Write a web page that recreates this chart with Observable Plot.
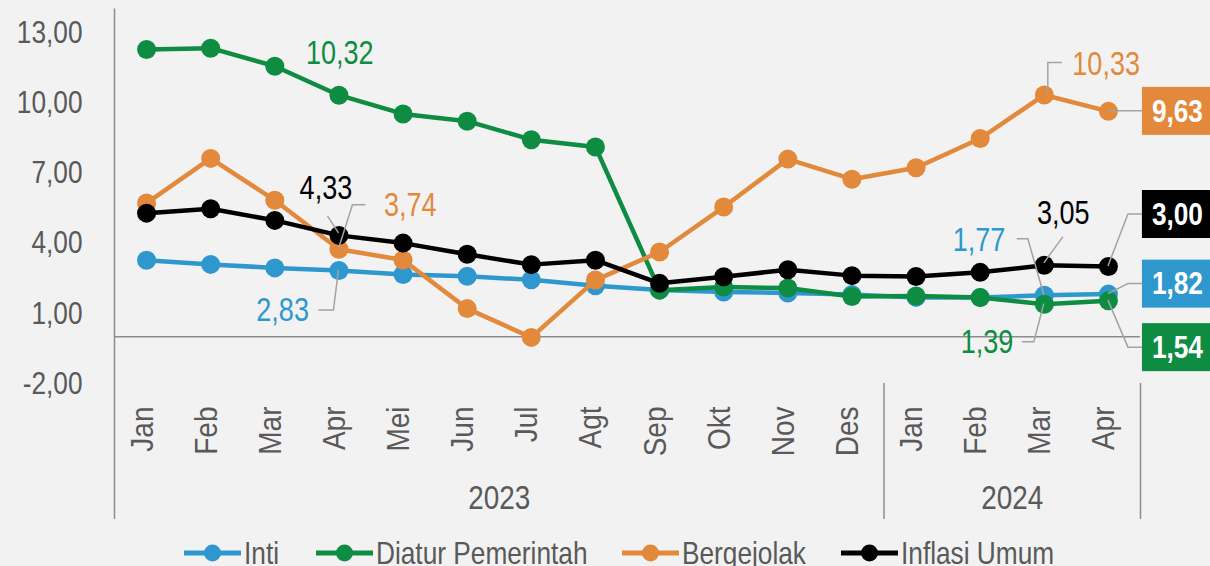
<!DOCTYPE html>
<html><head><meta charset="utf-8">
<script src="https://cdn.jsdelivr.net/npm/d3@7"></script>
<script src="https://cdn.jsdelivr.net/npm/@observablehq/plot@0.6"></script>
<style>
body{margin:0;background:#F2F2F2;}
#chart{position:relative;width:1210px;height:566px;overflow:hidden;background:#F2F2F2;}
#legend{position:relative;height:36px;font-family:"Liberation Sans",Arial,sans-serif;font-size:32px;color:#595959;}
.item{position:absolute;top:0;height:46px;display:flex;align-items:center;white-space:nowrap;}
.item svg{margin-right:3px;flex:none;}
.item span{display:inline-block;transform:scaleX(0.82);transform-origin:left center;}
</style></head><body><div id="chart"></div><script>
// ---- data ----
const months = ["Jan","Feb","Mar","Apr","Mei","Jun","Jul","Agt","Sep","Okt","Nov","Des","Jan","Feb","Mar","Apr"];
const monthYear = ["2023","2023","2023","2023","2023","2023","2023","2023","2023","2023","2023","2023","2024","2024","2024","2024"];
const seriesNames = ["Inti","Diatur Pemerintah","Bergejolak","Inflasi Umum"];
const inti       = [3.27,3.09,2.94,2.83,2.66,2.58,2.43,2.18,2.00,1.91,1.87,1.80,1.68,1.68,1.77,1.82];
const diatur     = [12.27,12.33,11.56,10.32,9.52,9.21,8.42,8.11,1.99,2.12,2.08,1.72,1.74,1.67,1.39,1.54];
const bergejolak = [5.71,7.62,5.83,3.74,3.28,1.20,-0.03,2.42,3.62,5.54,7.59,6.73,7.22,8.47,10.33,9.63];
const umum       = [5.28,5.47,4.97,4.33,4.00,3.52,3.08,3.27,2.28,2.56,2.86,2.61,2.57,2.75,3.05,3.00];
const yTicks = [-2,1,4,7,10,13];

// ---- styles ----
const colors = ["#2E98CE","#0E8C42","#E2893B","#000000"];
const narrow = '"Liberation Sans","Arial Narrow",sans-serif';   // compressed horizontally below
const regular = '"Liberation Sans",Arial,sans-serif';
const fmt = v => v.toFixed(2).replace(".", ",");
const values = [inti, diatur, bergejolak, umum];

const rows = values.map((arr, s) => arr.map((v, i) => ({s, i, v})));
const last = months.length - 1;

// callouts: series index, month index, label placement (pixel offsets from point)
const callouts = [
  {s:1, i:3,  anchor:"start",  dx:-33, dy:-42, path:null},
  {s:3, i:3,  anchor:"middle", dx:-13, dy:-47, path:[[-11,-19],[0,-2]]},
  {s:2, i:3,  anchor:"start",  dx:45,  dy:-44, path:[[0,0],[14,-44],[27,-44]]},
  {s:0, i:3,  anchor:"end",    dx:-30, dy:40,  path:[[0,0],[-5,40],[-20,40]]},
  {s:2, i:14, anchor:"start",  dx:28,  dy:-31, path:[[4,-2],[4,-32],[18,-32]]},
  {s:3, i:14, anchor:"middle", dx:19,  dy:-52, path:[[19,-28],[0,-2]]},
  {s:0, i:14, anchor:"end",    dx:-39, dy:-55, path:[[-27,-56],[-16,-56],[0,0]]},
  {s:1, i:14, anchor:"end",    dx:-31, dy:38,  path:[[-22,38],[-10,38],[0,0]]}
].map(d => ({...d, v: values[d.s][d.i]}));

const boxes = [
  {s:2, dy:0,   path:[[0,0],[34,0]]},
  {s:3, dy:-52, path:[[0,0],[20,-52],[34,-52]]},
  {s:0, dy:-10, path:[[0,0],[20,-10],[34,-10]]},
  {s:1, dy:47,  path:[[0,0],[20,47],[34,47]]}
].map(d => ({...d, i:last, v: values[d.s][last]}));

// year groups
const yearGroups = d3.groups(d3.range(months.length), i => monthYear[i])
  .map(([y, idx]) => ({year: y, mid: (d3.min(idx) + d3.max(idx)) / 2, end: d3.max(idx) + 0.5}));

function leaderMark(data) {
  return Plot.dot(data, {x: "i", y: "v", render(index, scales) {
    const g = d3.create("svg:g").attr("fill","none").attr("stroke","#A3A3A3").attr("stroke-width",1.5);
    for (const k of index) {
      const d = data[k]; if (!d.path) continue;
      const x0 = scales.x(d.i), y0 = scales.y(d.v);
      g.append("path").attr("d", d3.line()(d.path.map(([dx,dy]) => [x0+dx, y0+dy])));
    }
    return g.node();
  }});
}
function boxMark(data) {
  return Plot.dot(data, {x: "i", y: "v", render(index, scales) {
    const g = d3.create("svg:g");
    for (const k of index) {
      const d = data[k];
      const x0 = scales.x(d.i), y0 = scales.y(d.v);
      g.append("rect").attr("x", x0+34).attr("y", y0+d.dy-24).attr("width", 70).attr("height", 48).attr("fill", colors[d.s]);
    }
    return g.node();
  }});
}

const marks = [
  Plot.axisY(yTicks, {tickSize:0, tickPadding:32, tickFormat: fmt, label:null, fontSize:32, fontFamily: narrow, fill:"#595959"}),
  Plot.ruleX([-0.5], {stroke:"#8C8C8C", strokeWidth:1.5, insetBottom:-136}),
  Plot.ruleX(yearGroups, {x:"end", y1: () => -2, y2: () => -2, stroke:"#8C8C8C", strokeWidth:1.5, insetBottom:-136}),
  Plot.ruleY([0], {stroke:"#8C8C8C", strokeWidth:1.5}),
  Plot.text(d3.range(months.length), {x: d => d, frameAnchor:"bottom", text: i => months[i], rotate:-90, textAnchor:"end", dx:6, dy:23, fontSize:28, fontFamily: regular, fill:"#595959"}),
  Plot.text(yearGroups, {x:"mid", frameAnchor:"bottom", text:"year", dy:125, fontSize:34, fontFamily: narrow, fill:"#595959"})
];
rows.forEach((r, s) => {
  marks.push(Plot.line(r, {x:"i", y:"v", stroke: colors[s], strokeWidth:4.5}));
  marks.push(Plot.dot(r, {x:"i", y:"v", r:9.5, fill: colors[s]}));
});
marks.push(leaderMark(callouts));
marks.push(leaderMark(boxes));
callouts.forEach(d => marks.push(Plot.text([d], {x:"i", y:"v", text: d => fmt(d.v), textAnchor: d.anchor, dx: d.dx, dy: d.dy, fill: colors[d.s], fontSize:33, fontFamily: narrow})));
marks.push(boxMark(boxes));
boxes.forEach(d => marks.push(Plot.text([d], {x:"i", y:"v", text: d => fmt(d.v), textAnchor:"middle", dx:69, dy: d.dy, fill:"white", fontSize:32, fontWeight:"bold", fontFamily: narrow})));

const plot = Plot.plot({
  width:1210, height:530,
  marginLeft:114, marginRight:70, marginTop:8.6, marginBottom:147,
  x:{domain:[-0.5, months.length-0.5], axis:null},
  y:{domain:[-2,14], axis:null},
  style:{background:"transparent", overflow:"visible"},
  marks
});

// emulate a narrow face: compress text horizontally around its anchor
function squeeze(sel, sx, sy) {
  plot.querySelectorAll(sel).forEach(t => {
    let tr = t.getAttribute("transform");
    if (!tr) {
      const x = +t.getAttribute("x") || 0, y = +t.getAttribute("y") || 0;
      t.removeAttribute("x"); t.removeAttribute("y");
      tr = `translate(${x},${y})`;
    }
    t.setAttribute("transform", `${tr} scale(${sx},${sy})`);
  });
}
squeeze('[font-family*="Narrow"] text', 0.82, 1);
squeeze('[transform*="rotate"]', 1, 1.12);

const chart = document.getElementById("chart");
chart.appendChild(plot);

// legend
const legend = document.createElement("div");
legend.id = "legend";
const legendLeft = [184, 316, 622, 841];
seriesNames.forEach((name, s) => {
  const it = document.createElement("div");
  it.className = "item";
  it.style.left = legendLeft[s] + "px";
  it.innerHTML = `<svg width="57" height="20"><line x1="0" x2="57" y1="10" y2="10" stroke="${colors[s]}" stroke-width="5" stroke-linecap="round"/><circle cx="28.5" cy="10" r="8.5" fill="${colors[s]}"/></svg><span>${name}</span>`;
  legend.appendChild(it);
});
chart.appendChild(legend);
</script></body></html>
